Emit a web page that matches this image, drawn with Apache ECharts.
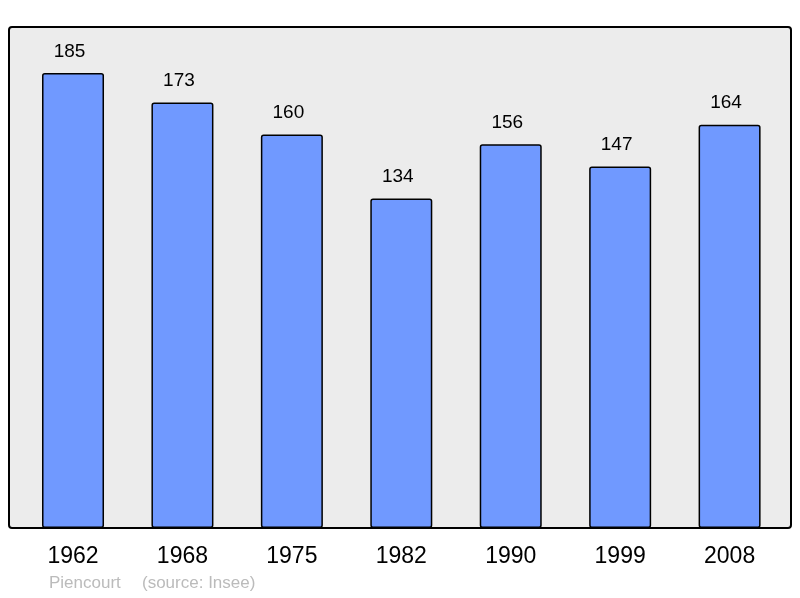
<!DOCTYPE html>
<html><head><meta charset="utf-8">
<script src="https://cdn.jsdelivr.net/npm/echarts@6/dist/echarts.min.js"></script>
<style>html,body{margin:0;padding:0;background:#fff}#c{width:800px;height:598px}</style>
</head><body><div id="c"></div>
<script>
const years = ['1962','1968','1975','1982','1990','1999','2008'];
const population = [185,173,160,134,156,147,164];
const footerName = 'Piencourt';
const footerSource = '(source: Insee)';

const chart = echarts.init(document.getElementById('c'));
chart.setOption({
  animation: false,
  backgroundColor: '#ffffff',
  graphic: [
    {type:'rect', z:-10, shape:{x:9,y:27,width:782,height:501,r:3},
     style:{fill:'#ececec', stroke:'#000', lineWidth:2}},
    {type:'text', left:49, top:575, style:{text:footerName, fill:'#bbbbbb', font:'17px "Liberation Sans", Arial, sans-serif'}},
    {type:'text', left:142, top:575, style:{text:footerSource, fill:'#bbbbbb', font:'17px "Liberation Sans", Arial, sans-serif'}}
  ],
  grid: {left:18.3, right:15.7, top:27, bottom:70},
  xAxis: {
    type:'category', data:years,
    axisLine:{show:false}, axisTick:{show:false},
    axisLabel:{fontSize:23, color:'#000', margin:17, fontFamily:'"Liberation Sans", Arial, sans-serif'}
  },
  yAxis: {type:'value', min:0, max:203.7, show:false, splitLine:{show:false}},
  series: [{
    type:'bar', data:population, barWidth:62, z:2,
    itemStyle:{color:'#7099ff', borderColor:'#000', borderWidth:1.5, borderRadius:2},
    label:{show:true, position:'top', distance:12, offset:[-3.5,0], fontSize:19, color:'#000', fontFamily:'"Liberation Sans", Arial, sans-serif'}
  }]
});
</script></body></html>
